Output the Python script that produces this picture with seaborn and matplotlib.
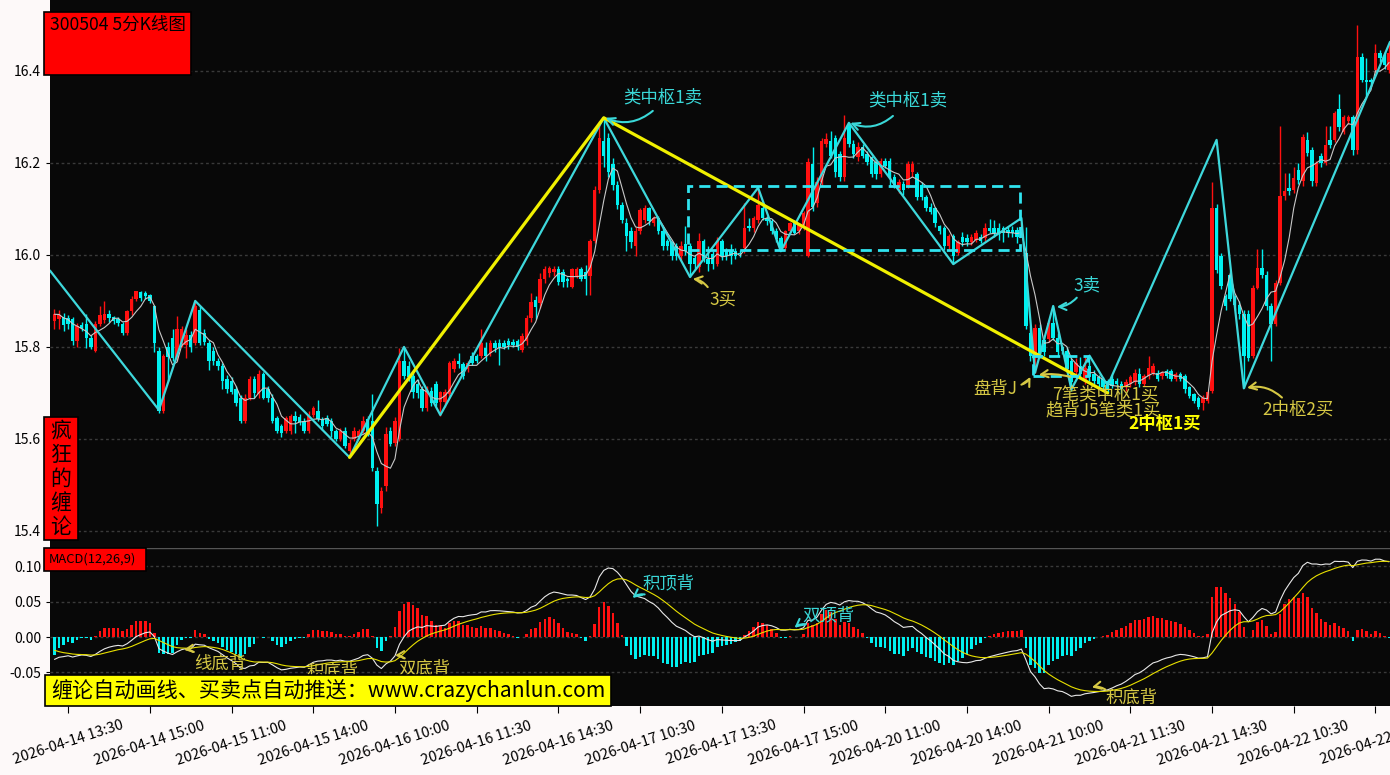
import numpy as np
import pandas as pd
import matplotlib
matplotlib.use("Agg")
import matplotlib.pyplot as plt
import seaborn as sns
from matplotlib.patches import Rectangle

sns.set_theme(style="dark")
plt.rcParams['font.family'] = ['Noto Sans CJK SC', 'DejaVu Sans']
plt.rcParams['axes.unicode_minus'] = False

# ---------------- data (5-minute candles) ----------------
opens = [
 15.856,15.860,15.866,15.862,15.860,15.812,15.848,15.850,15.820,15.792,
 15.850,15.858,15.871,15.864,15.860,15.850,15.830,15.877,15.905,15.920,
 15.918,15.912,15.889,15.791,15.661,15.800,15.820,15.777,15.809,15.805,
 15.825,15.809,15.880,15.830,15.809,15.791,15.769,15.759,15.730,15.726,
 15.709,15.690,15.639,15.690,15.730,15.697,15.742,15.709,15.690,15.646,
 15.628,15.617,15.617,15.650,15.648,15.639,15.617,15.653,15.661,15.643,
 15.646,15.639,15.617,15.599,15.617,15.574,15.599,15.606,15.617,15.643,
 15.639,15.530,15.450,15.498,15.617,15.592,15.600,15.769,15.759,15.737,
 15.720,15.709,15.668,15.705,15.719,15.680,15.680,15.697,15.751,15.769,
 15.762,15.751,15.780,15.780,15.780,15.798,15.787,15.809,15.809,15.809,
 15.812,15.810,15.812,15.794,15.812,15.862,15.902,15.895,15.948,15.960,
 15.962,15.969,15.962,15.948,15.930,15.955,15.969,15.962,15.955,16.030,
 16.141,16.248,16.255,16.198,16.151,16.109,16.069,16.051,16.019,16.051,
 16.076,16.101,16.069,16.080,16.051,16.030,16.027,16.019,15.998,16.023,
 16.019,15.994,15.973,16.030,15.991,16.002,15.980,16.030,16.009,16.009,
 16.009,16.005,16.016,16.062,16.059,16.076,16.101,16.080,16.073,16.051,
 16.037,16.016,16.051,16.069,16.051,16.059,15.998,16.198,16.112,16.159,
 16.241,16.248,16.255,16.219,16.169,16.284,16.241,16.212,16.234,16.219,
 16.212,16.201,16.176,16.205,16.205,16.169,16.141,16.155,16.151,16.180,
 16.176,16.151,16.126,16.105,16.101,16.062,16.059,16.019,16.041,16.005,
 16.040,16.037,16.027,16.033,16.040,16.037,16.058,16.058,16.058,16.058,
 16.055,16.055,16.055,16.048,16.004,15.831,15.781,15.842,15.815,15.817,
 15.853,15.820,15.800,15.791,15.770,15.745,15.759,15.726,15.759,15.741,
 15.734,15.730,15.726,15.730,15.726,15.719,15.712,15.719,15.723,15.741,
 15.719,15.737,15.744,15.744,15.737,15.748,15.748,15.730,15.741,15.737,
 15.712,15.697,15.690,15.679,15.683,15.705,16.102,15.997,15.910,15.957,
 15.907,15.892,15.871,15.871,15.781,15.929,15.972,15.957,15.889,15.849,
 15.939,16.127,16.145,16.142,16.185,16.160,16.250,16.228,16.156,16.214,
 16.199,16.250,16.250,16.318,16.268,16.290,16.300,16.228,16.430,16.380,
 16.380,16.401,16.438,16.430,16.401]
highs = [
 15.882,15.880,15.873,15.870,15.866,15.852,15.855,15.872,15.826,15.856,
 15.888,15.900,15.880,15.868,15.866,15.855,15.880,15.910,15.922,15.922,
 15.922,15.915,15.891,15.800,15.785,15.810,15.838,15.867,15.846,15.840,
 15.835,15.900,15.890,15.838,15.815,15.800,15.775,15.766,15.738,15.735,
 15.715,15.695,15.697,15.737,15.737,15.750,15.745,15.715,15.697,15.650,
 15.632,15.650,15.655,15.660,15.655,15.645,15.660,15.672,15.685,15.648,
 15.652,15.645,15.622,15.624,15.625,15.600,15.625,15.622,15.650,15.650,
 15.698,15.540,15.495,15.625,15.625,15.648,15.798,15.800,15.770,15.745,
 15.730,15.715,15.715,15.712,15.725,15.705,15.708,15.770,15.775,15.787,
 15.768,15.770,15.790,15.785,15.838,15.810,15.815,15.815,15.818,15.815,
 15.820,15.818,15.818,15.830,15.870,15.918,15.910,15.960,15.975,15.975,
 15.975,15.975,15.970,15.952,15.972,15.973,15.973,15.977,16.035,16.150,
 16.291,16.298,16.266,16.210,16.160,16.115,16.080,16.060,16.060,16.103,
 16.109,16.105,16.085,16.084,16.060,16.035,16.030,16.025,16.030,16.062,
 16.025,16.000,16.048,16.035,16.019,16.008,16.040,16.035,16.015,16.023,
 16.015,16.010,16.112,16.080,16.085,16.146,16.110,16.085,16.078,16.058,
 16.042,16.055,16.072,16.075,16.068,16.095,16.210,16.234,16.170,16.255,
 16.266,16.270,16.260,16.225,16.305,16.287,16.250,16.245,16.240,16.225,
 16.215,16.205,16.210,16.210,16.210,16.175,16.165,16.160,16.205,16.205,
 16.180,16.158,16.130,16.112,16.105,16.066,16.062,16.045,16.045,16.032,
 16.050,16.045,16.045,16.055,16.045,16.069,16.078,16.075,16.069,16.062,
 16.060,16.062,16.060,16.069,16.060,15.845,15.850,15.850,15.825,15.860,
 15.889,15.830,15.805,15.800,15.775,15.775,15.778,15.780,15.775,15.750,
 15.740,15.735,15.730,15.740,15.733,15.725,15.730,15.740,15.752,15.755,
 15.742,15.781,15.765,15.750,15.748,15.752,15.752,15.745,15.745,15.742,
 15.716,15.700,15.694,15.695,15.705,16.158,16.110,16.004,15.915,15.965,
 15.912,15.900,15.880,15.880,15.935,16.012,16.012,15.965,15.895,15.945,
 16.280,16.178,16.178,16.190,16.200,16.262,16.268,16.235,16.205,16.221,
 16.280,16.280,16.312,16.349,16.305,16.305,16.305,16.499,16.438,16.427,
 16.385,16.459,16.445,16.440,16.459]
lows = [
 15.840,15.838,15.835,15.840,15.805,15.800,15.835,15.798,15.796,15.788,
 15.845,15.852,15.855,15.850,15.845,15.826,15.826,15.870,15.900,15.900,
 15.905,15.895,15.790,15.656,15.656,15.726,15.770,15.770,15.800,15.776,
 15.790,15.805,15.805,15.805,15.750,15.760,15.750,15.709,15.700,15.697,
 15.672,15.635,15.635,15.685,15.690,15.690,15.686,15.680,15.635,15.612,
 15.605,15.612,15.610,15.612,15.630,15.612,15.612,15.648,15.640,15.620,
 15.628,15.605,15.595,15.595,15.580,15.560,15.595,15.600,15.612,15.606,
 15.530,15.411,15.440,15.487,15.585,15.585,15.595,15.730,15.725,15.690,
 15.690,15.660,15.660,15.672,15.672,15.650,15.670,15.690,15.745,15.755,
 15.730,15.745,15.760,15.765,15.775,15.770,15.780,15.790,15.760,15.795,
 15.795,15.800,15.794,15.790,15.805,15.855,15.860,15.885,15.940,15.952,
 15.955,15.935,15.930,15.930,15.928,15.950,15.944,15.912,15.912,16.025,
 16.135,16.190,16.170,16.140,16.100,16.070,16.009,16.015,15.998,16.045,
 16.070,16.065,16.062,16.045,16.010,16.010,15.990,15.990,15.990,16.000,
 15.952,15.970,15.962,15.985,15.965,15.970,15.975,15.990,15.990,15.980,
 15.992,15.995,16.005,16.051,16.050,16.070,16.075,16.065,16.045,16.028,
 16.008,16.010,16.045,16.045,16.045,16.055,15.995,16.095,16.105,16.150,
 16.235,16.210,16.170,16.160,16.160,16.235,16.210,16.205,16.210,16.195,
 16.170,16.165,16.170,16.188,16.150,16.145,16.135,16.130,16.145,16.170,
 16.120,16.120,16.095,16.088,16.060,16.045,16.010,16.010,15.980,16.000,
 16.020,16.020,16.022,16.028,16.025,16.030,16.048,16.040,16.033,16.027,
 16.040,16.040,16.025,16.040,15.840,15.770,15.744,15.775,15.780,15.810,
 15.815,15.780,15.785,15.745,15.705,15.735,15.735,15.720,15.725,15.720,
 15.712,15.705,15.700,15.710,15.712,15.700,15.705,15.712,15.718,15.712,
 15.714,15.730,15.738,15.725,15.730,15.732,15.725,15.725,15.725,15.700,
 15.690,15.678,15.665,15.662,15.678,15.700,15.960,15.925,15.880,15.900,
 15.880,15.860,15.710,15.770,15.775,15.925,15.950,15.880,15.770,15.845,
 15.935,16.120,16.130,16.135,16.155,16.150,16.215,16.150,16.150,16.192,
 16.195,16.232,16.245,16.270,16.262,16.285,16.217,16.220,16.375,16.344,
 16.370,16.395,16.420,16.405,16.395]
closes = [
 15.871,15.870,15.848,15.850,15.812,15.846,15.842,15.820,15.800,15.850,
 15.870,15.871,15.862,15.857,15.852,15.830,15.877,15.905,15.921,15.907,
 15.911,15.900,15.809,15.661,15.780,15.778,15.777,15.840,15.838,15.825,
 15.800,15.889,15.809,15.810,15.769,15.769,15.759,15.726,15.709,15.701,
 15.679,15.639,15.690,15.730,15.700,15.742,15.690,15.690,15.639,15.617,
 15.612,15.646,15.650,15.639,15.637,15.617,15.653,15.668,15.643,15.628,
 15.632,15.617,15.599,15.617,15.585,15.592,15.617,15.617,15.639,15.612,
 15.537,15.458,15.487,15.610,15.590,15.639,15.769,15.737,15.734,15.701,
 15.700,15.668,15.709,15.679,15.679,15.701,15.701,15.766,15.769,15.762,
 15.737,15.765,15.766,15.770,15.809,15.780,15.809,15.798,15.798,15.800,
 15.805,15.805,15.800,15.823,15.862,15.898,15.887,15.948,15.969,15.971,
 15.969,15.941,15.941,15.944,15.969,15.969,15.948,15.948,16.030,16.141,
 16.255,16.216,16.180,16.151,16.109,16.076,16.041,16.027,16.051,16.098,
 16.101,16.073,16.080,16.051,16.019,16.019,15.998,15.998,16.019,16.009,
 15.980,15.980,16.030,15.991,15.980,15.980,16.030,15.998,15.998,15.998,
 15.998,16.002,16.059,16.059,16.080,16.109,16.080,16.073,16.051,16.034,
 16.016,16.051,16.069,16.048,16.065,16.091,16.201,16.105,16.159,16.248,
 16.251,16.216,16.180,16.169,16.255,16.241,16.219,16.234,16.216,16.201,
 16.176,16.176,16.205,16.194,16.169,16.151,16.159,16.141,16.198,16.198,
 16.126,16.126,16.101,16.094,16.069,16.051,16.019,16.041,15.998,16.027,
 16.027,16.027,16.040,16.048,16.030,16.058,16.051,16.048,16.048,16.048,
 16.048,16.048,16.040,16.058,15.845,15.781,15.842,15.784,15.788,15.853,
 15.820,15.788,15.791,15.752,15.723,15.766,15.741,15.755,15.734,15.726,
 15.719,15.712,15.708,15.716,15.719,15.708,15.723,15.734,15.744,15.719,
 15.737,15.755,15.759,15.730,15.744,15.737,15.730,15.741,15.730,15.708,
 15.694,15.683,15.669,15.690,15.701,16.102,15.968,15.932,15.889,15.905,
 15.892,15.871,15.781,15.777,15.929,15.972,15.957,15.889,15.849,15.939,
 16.127,16.138,16.138,16.167,16.163,16.257,16.221,16.160,16.199,16.199,
 16.239,16.239,16.308,16.279,16.300,16.300,16.228,16.430,16.380,16.376,
 16.376,16.438,16.427,16.412,16.438]

# zig-zag "bi" strokes (candle index, price)
bi_x = [-1.0, 23, 31, 65, 77, 85, 121, 140, 155, 160, 175, 198, 213, 216, 220, 224, 228, 232, 256, 262, 294.2]
bi_y = [15.966, 15.663, 15.900, 15.560, 15.800, 15.652, 16.298, 15.952, 16.146, 16.008, 16.287, 15.980,
        16.080, 15.744, 15.889, 15.708, 15.781, 15.716, 16.250, 15.710, 16.463]
# segment line (yellow)
seg_x = [65, 121, 232]
seg_y = [15.560, 16.298, 15.700]
# pivot zones (x0, x1, low, high)
zones = [(139.5, 212.8, 16.010, 16.150), (215.5, 227.6, 15.737, 15.780)]

# MACD(12,26,9) starting state carried in from earlier bars
ema12_start, ema26_start, dea_start = 15.860, 15.895, -0.0155

xtick_idx = [3, 21, 39, 57, 75, 93, 111, 129, 147, 165, 183, 201, 219, 237, 255, 273, 291]
xtick_labels = ['2026-04-14 13:30', '2026-04-14 15:00', '2026-04-15 11:00', '2026-04-15 14:00',
                '2026-04-16 10:00', '2026-04-16 11:30', '2026-04-16 14:30', '2026-04-17 10:30',
                '2026-04-17 13:30', '2026-04-17 15:00', '2026-04-20 11:00', '2026-04-20 14:00',
                '2026-04-21 10:00', '2026-04-21 11:30', '2026-04-21 14:30', '2026-04-22 10:30',
                '2026-04-22 13:30']
price_ticks = [15.4, 15.6, 15.8, 16.0, 16.2, 16.4]
macd_ticks = [-0.05, 0.0, 0.05, 0.10]

# ---------------- derived indicators ----------------
o = np.array(opens); h = np.array(highs); l = np.array(lows); c = np.array(closes)
n = len(c)
idx = np.arange(n)
ma5 = pd.Series(c).rolling(5, min_periods=1).mean().values
e12, e26, dea = ema12_start, ema26_start, dea_start
dif_l, dea_l = [], []
for v in c:
    e12 += (v - e12) * 2 / 13
    e26 += (v - e26) * 2 / 27
    d = e12 - e26
    dea += (d - dea) * 2 / 10
    dif_l.append(d); dea_l.append(dea)
dif = np.array(dif_l); dea_arr = np.array(dea_l)
hist = 2 * (dif - dea_arr)

# ---------------- figure ----------------
W, H = 1390, 775
fig = plt.figure(figsize=(W / 100, H / 100), dpi=100, facecolor='#fdf9f9')

def fax(x0, y0, x1, y1):
    return [x0 / W, 1 - y1 / H, (x1 - x0) / W, (y1 - y0) / H]

ax = fig.add_axes(fax(50, 0, 1390, 548))
axm = fig.add_axes(fax(50, 548, 1390, 706), sharex=ax)
BG = '#080808'
RED = '#ff1010'
CYAN = '#00f0f0'
for a in (ax, axm):
    a.set_facecolor(BG)
    for s in a.spines.values():
        s.set_visible(False)
    a.grid(False)
    a.tick_params(axis='both', colors='black', labelsize=10, length=3, direction='out',
                  left=True, bottom=True, width=0.8)

# candles
up = c >= o
cols = np.where(up, RED, CYAN)
ax.vlines(idx, l, h, colors=cols, linewidth=1.0, zorder=2)
body = np.maximum(np.abs(c - o), 0.0025)
ax.bar(idx, body, bottom=np.minimum(o, c), width=0.76, color=cols, linewidth=0, zorder=3)
sns.lineplot(x=idx, y=ma5, ax=ax, color='#c8c8c8', linewidth=0.8, zorder=4)

# strokes and segment
ax.plot(bi_x, bi_y, color='#3ed8dc', linewidth=1.6, zorder=5)
ax.plot(seg_x, seg_y, color='#f0f000', linewidth=2.3, zorder=5)
for (x0, x1, lo, hi) in zones:
    ax.add_patch(Rectangle((x0, lo), x1 - x0, hi - lo, fill=False, edgecolor='#30e4f0',
                           linewidth=2.0, linestyle=(0, (4, 2.2)), zorder=5))

ax.set_xlim(-0.99, 294.2)
ax.set_ylim(15.363, 16.554)
ax.set_yticks(price_ticks)
ax.set_yticklabels([f'{t:.1f}' for t in price_ticks])
for t in price_ticks:
    ax.axhline(t, color='#3a3a3a', linewidth=1.0, linestyle=(0, (2, 2)), zorder=1)
ax.tick_params(axis='x', bottom=False, labelbottom=False)
ax.set_xlabel(''); ax.set_ylabel('')

CY_T = '#3ad8d8'
YE_T = '#d6c844'

def note(a, s, tx, ty, color, arrow=None, rad=0.3, fs=12.5, weight='normal'):
    a.text(tx, ty, s, color=color, fontsize=fs, ha='center', va='center', zorder=7,
           fontweight=weight)
    if arrow is not None:
        (x0, y0), (x1, y1) = arrow
        a.annotate('', xy=(x1, y1), xytext=(x0, y0), zorder=7,
                   arrowprops=dict(arrowstyle='->', color=color, lw=1.5, shrinkA=0, shrinkB=0,
                                   mutation_scale=13, connectionstyle=f'arc3,rad={rad}'))

note(ax, '类中枢1卖', 134.0, 16.343, CY_T, ((131.8, 16.313), (121.4, 16.298)), rad=-0.3)
note(ax, '类中枢1卖', 188.0, 16.335, CY_T, ((184.7, 16.302), (175.3, 16.287)), rad=-0.3)
note(ax, '3买', 147.2, 15.902, YE_T, ((143.9, 15.930), (140.6, 15.948)), rad=0.2)
note(ax, '3卖', 227.4, 15.933, CY_T, ((225.2, 15.907), (220.8, 15.887)), rad=-0.2)
note(ax, '盘背J', 207.2, 15.709, YE_T, ((213.0, 15.718), (215.0, 15.735)), rad=0.2)
note(ax, '7笔类中枢1买', 231.4, 15.696, YE_T, ((223.7, 15.735), (216.8, 15.739)), rad=0.1)
note(ax, '趋背J5笔类1买', 231.0, 15.663, YE_T)
note(ax, '2中枢1买', 244.6, 15.633, '#ffff00', weight='bold')
note(ax, '2中枢2买', 273.9, 15.663, YE_T, ((270.4, 15.690), (262.7, 15.711)), rad=0.25)

# MACD panel
hcols = np.where(hist >= 0, RED, CYAN)
axm.bar(idx, hist, width=0.55, color=hcols, linewidth=0, zorder=2)
sns.lineplot(x=idx, y=dif, ax=axm, color='#e8e8e8', linewidth=0.8, zorder=3)
sns.lineplot(x=idx, y=dea_arr, ax=axm, color='#e8e000', linewidth=0.8, zorder=3)
axm.set_ylim(-0.0972, 0.1254)
axm.set_yticks(macd_ticks)
axm.set_yticklabels([f'{t:.2f}' for t in macd_ticks])
for t in macd_ticks:
    axm.axhline(t, color='#3a3a3a', linewidth=1.0, linestyle=(0, (2, 2)), zorder=1)
axm.set_xticks(xtick_idx)
axm.set_xticklabels(xtick_labels, rotation=18, ha='center', va='top', fontsize=10.5)
axm.tick_params(axis='x', length=5, pad=4)
axm.set_xlabel(''); axm.set_ylabel('')
axm.axhline(0.1254, color='#555555', linewidth=1.0, zorder=4)

note(axm, '积顶背', 135.3, 0.076, CY_T, ((130.0, 0.060), (127.3, 0.055)), rad=0.2)
note(axm, '双顶背', 170.4, 0.030, CY_T, ((165.5, 0.018), (163.0, 0.013)), rad=0.2)
note(axm, '线底背', 36.5, -0.037, YE_T, ((30.5, -0.021), (28.5, -0.018)), rad=0.2)
note(axm, '积底背', 61.3, -0.049, YE_T)
note(axm, '双底背', 81.6, -0.044, YE_T, ((77.0, -0.030), (75.0, -0.026)), rad=0.2)
note(axm, '积底背', 237.3, -0.086, YE_T, ((231.5, -0.074), (228.5, -0.071)), rad=0.2)

# boxes and labels in figure space
def fbox(x0, y0, x1, y1, fc, lw=1.2):
    fig.add_artist(Rectangle((x0 / W, 1 - y1 / H), (x1 - x0) / W, (y1 - y0) / H,
                             transform=fig.transFigure, facecolor=fc, edgecolor='black',
                             linewidth=lw, zorder=10))

fbox(44, 12, 191, 75, '#ff0000')
fig.text(50 / W, 1 - 25 / H, '300504 5分K线图', fontsize=12.6, color='black', va='center',
         ha='left', zorder=11)
fbox(44, 417, 78, 540, '#ff0000')
fig.text(61 / W, 1 - 479 / H, '疯\n狂\n的\n缠\n论', fontsize=15, color='black', va='center',
         ha='center', linespacing=1.12, zorder=11)
fbox(44, 548, 146, 571, '#ff0000')
fig.text(49 / W, 1 - 559.5 / H, 'MACD(12,26,9)', fontsize=9.3, color='black', va='center',
         ha='left', zorder=11)
fbox(45, 675, 611, 706, '#ffff00')
fig.text(51 / W, 1 - 691 / H, '缠论自动画线、买卖点自动推送：www.crazychanlun.com', fontsize=15.2,
         color='black', va='center', ha='left', zorder=11)

fig.savefig('out.png', dpi=100, facecolor=fig.get_facecolor())
